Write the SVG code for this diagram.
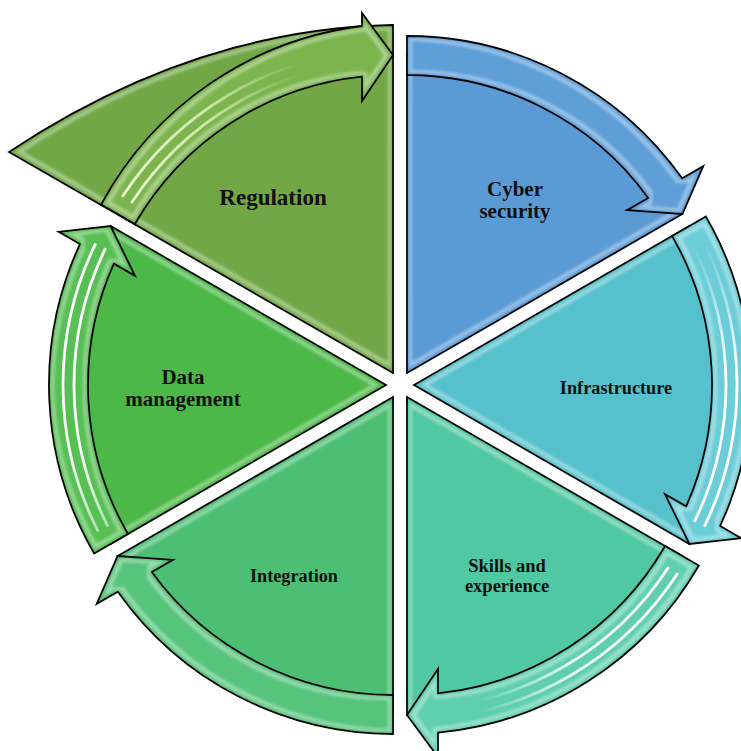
<svg xmlns="http://www.w3.org/2000/svg" width="741" height="751" viewBox="0 0 741 751">
  <defs>
    <style>
      .seg { stroke: #000; stroke-width: 1.8; stroke-linejoin: miter; filter: url(#bevel); }
      .arrow { stroke: #000; stroke-width: 1.8; stroke-linejoin: miter; filter: url(#bevel); }
      .shine { fill: none; stroke-width: 2.8; filter: url(#soft); }
      .label { font-family: "Liberation Serif", "Times New Roman", serif; font-weight: bold; fill: #111; text-anchor: middle; }
    </style>
    <!-- inset highlight ring that gives every piece its glossy bevel -->
    <filter id="bevel" x="-5%" y="-5%" width="110%" height="110%" color-interpolation-filters="sRGB">
      <feMorphology in="SourceAlpha" operator="erode" radius="3" result="e1"/>
      <feMorphology in="SourceAlpha" operator="erode" radius="6" result="e2"/>
      <feComposite in="e1" in2="e2" operator="out" result="ring"/>
      <feGaussianBlur in="ring" stdDeviation="1.5" result="ringBlur"/>
      <feFlood flood-color="#ffffff" flood-opacity="0.4"/>
      <feComposite in2="ringBlur" operator="in" result="hi"/>
      <feMerge>
        <feMergeNode in="SourceGraphic"/>
        <feMergeNode in="hi"/>
      </feMerge>
    </filter>
    <filter id="soft" x="-10%" y="-10%" width="120%" height="120%">
      <feGaussianBlur stdDeviation="0.5"/>
    </filter>
    <!-- light falloff along the glossy streaks -->
    <linearGradient id="shineReg" gradientUnits="userSpaceOnUse" x1="110" y1="0" x2="300" y2="0">
      <stop offset="0" stop-color="#eefbd6" stop-opacity="1"/>
      <stop offset="0.5" stop-color="#eefbd6" stop-opacity="0.7"/>
      <stop offset="1" stop-color="#eefbd6" stop-opacity="0"/>
    </linearGradient>
    <linearGradient id="shineInfra" gradientUnits="userSpaceOnUse" x1="0" y1="245" x2="0" y2="370">
      <stop offset="0" stop-color="#ffffff" stop-opacity="0"/>
      <stop offset="1" stop-color="#ffffff" stop-opacity="1"/>
    </linearGradient>
    <linearGradient id="shineSkills" gradientUnits="userSpaceOnUse" x1="690" y1="0" x2="480" y2="0">
      <stop offset="0" stop-color="#ffffff" stop-opacity="1"/>
      <stop offset="0.55" stop-color="#ffffff" stop-opacity="0.9"/>
      <stop offset="1" stop-color="#ffffff" stop-opacity="0"/>
    </linearGradient>
    <linearGradient id="shineData" gradientUnits="userSpaceOnUse" x1="0" y1="240" x2="0" y2="535">
      <stop offset="0" stop-color="#ffffff" stop-opacity="1"/>
      <stop offset="0.75" stop-color="#ffffff" stop-opacity="0.95"/>
      <stop offset="1" stop-color="#ffffff" stop-opacity="0.5"/>
    </linearGradient>
  </defs>

  <!-- pie segments -->
  <g id="regulation">
    <path class="seg" fill="#71A845" d="M393,373 L9,152 C110,85 240,28 393,25 Z"/>
    <text class="label" x="273" y="205" font-size="23">Regulation</text>
  </g>
  <g id="cyber-security">
    <path class="seg" fill="#5B9BD5" d="M407,373 L407,55 A318,318 0 0 1 682.39,214 Z"/>
    <text class="label" x="515" y="196" font-size="21">Cyber</text>
    <text class="label" x="515" y="218" font-size="21">security</text>
  </g>
  <g id="infrastructure">
    <path class="seg" fill="#56C1CC" d="M414,385 L689.39,226 A318,318 0 0 1 689.39,544 Z"/>
    <text class="label" x="616" y="394" font-size="18.3">Infrastructure</text>
  </g>
  <g id="skills-experience">
    <path class="seg" fill="#50C8A1" d="M407,397 L682.39,556 A318,318 0 0 1 407,715 Z"/>
    <text class="label" x="507" y="572" font-size="18.5">Skills and</text>
    <text class="label" x="507" y="592" font-size="18.5">experience</text>
  </g>
  <g id="integration">
    <path class="seg" fill="#4CBF74" d="M393,397 L393,715 A318,318 0 0 1 117.61,556 Z"/>
    <text class="label" x="294" y="582" font-size="18.2">Integration</text>
  </g>
  <g id="data-management">
    <path class="seg" fill="#4CB848" d="M386,385 L110.61,544 A318,318 0 0 1 110.61,226 Z"/>
    <text class="label" x="183" y="384" font-size="21">Data</text>
    <text class="label" x="183" y="406" font-size="21">management</text>
  </g>

  <!-- clockwise cycle arrows -->
  <g id="connectors">
    <path class="arrow" fill="#7CB54D" d="M101.15,204.5 A345,345 0 0 1 362,26 L362,13 L393,55 L362,101 L362,76.6 A298,298 0 0 0 134.92,224 Z"/>
    <path class="shine" stroke="url(#shineReg)" d="M131.34,203.07 A312,312 0 0 1 371.24,61.76"/>
    <path class="shine" stroke="url(#shineReg)" d="M122.11,197.08 A323,323 0 0 1 370.47,50.79"/>

    <path class="arrow" fill="#5E9FD8" d="M407,36 A337,337 0 0 1 682.14,178.35 L703.27,166.15 L682.4,214 L627.06,210.15 L648.19,197.95 A298,298 0 0 0 407,75 Z"/>

    <path class="arrow" fill="#6BCDD8" d="M705.85,216.5 A337,337 0 0 1 720.14,525.95 L741.27,538.15 L689.4,544 L665.06,494.15 L686.19,506.35 A298,298 0 0 0 672.08,236 Z"/>
    <path class="shine" stroke="url(#shineInfra)" d="M692,243.36 A312,312 0 0 1 694.42,521.77"/>
    <path class="shine" stroke="url(#shineInfra)" d="M701.79,238.36 A323,323 0 0 1 704.31,526.59"/>

    <path class="arrow" fill="#60CFB0" d="M698.85,565.5 A337,337 0 0 1 438,732.6 L438,757 L407,715 L438,669 L438,693.4 A298,298 0 0 0 665.08,546 Z"/>
    <path class="shine" stroke="url(#shineSkills)" d="M668.66,566.93 A312,312 0 0 1 428.76,708.24"/>
    <path class="shine" stroke="url(#shineSkills)" d="M677.89,572.92 A323,323 0 0 1 429.53,719.21"/>

    <path class="arrow" fill="#57C47C" d="M393,734 A337,337 0 0 1 117.86,591.65 L96.73,603.85 L117.6,556 L172.94,559.85 L151.81,572.05 A298,298 0 0 0 393,695 Z"/>

    <path class="arrow" fill="#58BF55" d="M94.15,553.5 A337,337 0 0 1 79.86,244.05 L58.73,231.85 L110.6,226 L134.94,275.85 L113.81,263.65 A298,298 0 0 0 127.92,534 Z"/>
    <path class="shine" stroke="url(#shineData)" d="M108,526.64 A312,312 0 0 1 105.58,248.23"/>
    <path class="shine" stroke="url(#shineData)" d="M98.21,531.64 A323,323 0 0 1 95.69,243.41"/>
  </g>
</svg>
